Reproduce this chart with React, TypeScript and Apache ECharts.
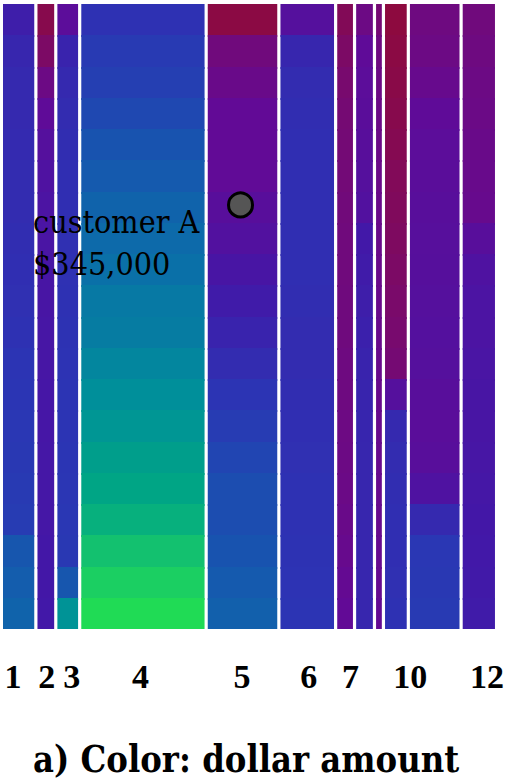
import React, { useEffect, useRef } from "react";
import * as echarts from "echarts";

// ---- data ----
const segmentNames = ["1", "2", "3", "4", "5", "6", "7", "8", "9", "10", "11", "12"];
// number of customers in each bar (bar width)
const customerCounts = [33, 20, 24, 127, 73, 57, 19, 20, 9, 25, 53, 34];

// dollar amount (in $1000) of the customers, row by row from top to bottom
const seg1 = [340, 325, 320, 320, 318, 315, 315, 312, 310, 308, 305, 300, 298, 295, 292, 290, 285, 240, 230, 220];
const seg2 = [480, 455, 420, 395, 380, 370, 365, 362, 360, 360, 358, 358, 356, 356, 355, 355, 355, 352, 352, 350];
const seg3 = [390, 330, 320, 315, 312, 310, 310, 308, 306, 305, 303, 302, 300, 300, 298, 297, 295, 292, 240, 140];
const seg4 = [305, 290, 280, 265, 245, 235, 220, 210, 200, 185, 180, 165, 150, 135, 115, 100, 85, 60, 35, 10];
const seg5 = [490, 430, 415, 400, 400, 398, 385, 375, 360, 345, 330, 315, 300, 285, 270, 255, 255, 245, 235, 225];
const seg6 = [380, 325, 315, 312, 310, 310, 310, 310, 310, 312, 315, 315, 312, 310, 308, 305, 305, 303, 302, 300];
const seg7 = [470, 455, 445, 440, 438, 435, 432, 430, 430, 428, 428, 425, 425, 422, 420, 418, 415, 410, 405, 400];
const seg8 = [420, 395, 390, 388, 385, 380, 375, 350, 345, 340, 335, 330, 328, 326, 325, 325, 325, 325, 325, 325];
const seg9 = [440, 425, 420, 418, 418, 416, 415, 415, 414, 414, 413, 412, 412, 411, 410, 410, 410, 408, 408, 405];
const seg10 = [495, 490, 485, 480, 475, 468, 465, 460, 455, 450, 445, 440, 380, 320, 315, 312, 310, 310, 308, 305];
const seg11 = [425, 420, 410, 395, 390, 388, 385, 383, 382, 380, 378, 380, 385, 388, 385, 370, 320, 295, 292, 290];
const seg12 = [430, 425, 420, 418, 415, 412, 410, 385, 370, 365, 365, 362, 360, 360, 358, 355, 352, 350, 348, 345];
const segmentAmounts = [seg1, seg2, seg3, seg4, seg5, seg6, seg7, seg8, seg9, seg10, seg11, seg12];

// tick labels shown under the bars and where they sit on the axis
const tickLabels = ["1", "2", "3", "4", "5", "6", "7", "10", "12"];
const tickPositions = [10, 44, 69, 138, 240, 307, 349, 409, 486];

const customerA = { name: "customer A", amount: 345000, x: 238.5, row: 6.43 };

const colorScale = ["#22e050", "#18c86a", "#00a585", "#008f9a", "#0a70a8", "#1a50b0", "#2c34b4", "#4218a8", "#620a96", "#7a0a6a", "#8f0a3a"];

const caption = "a) Color: dollar amount";

export default function App() {
  const ref = useRef<HTMLDivElement>(null);
  useEffect(() => {
    if (!ref.current) return;
    const chart = echarts.init(ref.current, null, { renderer: "svg" });
    const total = customerCounts.reduce((a, b) => a + b, 0);
    const nRows = seg1.length;
    const cells: number[][] = [];
    let start = 0;
    customerCounts.forEach((w, s) => {
      segmentAmounts[s].forEach((v, r) => {
        cells.push([start, start + w, r, r + 1, v, s]);
      });
      start += w;
    });
    const GAP = 1.6;
    const nSeg = customerCounts.length;
    chart.setOption({
      animation: false,
      grid: { left: 3, right: 10, top: 4, bottom: 152 },
      xAxis: {
        type: "value",
        min: 0,
        max: total,
        axisLine: { show: false },
        axisTick: { show: false },
        splitLine: { show: false },
        axisLabel: {
          customValues: tickPositions,
          formatter: (v: number) => {
            const i = tickPositions.indexOf(v);
            return i >= 0 ? tickLabels[i] : "";
          },
          fontFamily: "Liberation Serif",
          fontWeight: "bold",
          fontSize: 34,
          lineHeight: 34,
          color: "#000",
          margin: 30,
        },
      },
      yAxis: { type: "value", min: 0, max: nRows, inverse: true, show: false },
      visualMap: {
        type: "continuous",
        show: false,
        min: 0,
        max: 500,
        dimension: 4,
        seriesIndex: 0,
        inRange: { color: colorScale },
      },
      series: [
        {
          type: "custom",
          name: "dollar amount",
          data: cells,
          encode: { x: [0, 1], y: [2, 3] },
          renderItem: (params: any, api: any) => {
            const s = api.value(5);
            const row = api.value(2);
            const p0 = api.coord([api.value(0), api.value(2)]);
            const p1 = api.coord([api.value(1), api.value(3)]);
            const left = p0[0] + (s > 0 ? GAP : 0);
            const right = p1[0] - (s < nSeg - 1 ? GAP : 0);
            const top = Math.round(Math.min(p0[1], p1[1]));
            const bottom = Math.round(Math.max(p0[1], p1[1]));
            const extra = row < nRows - 1 ? 2 : 0;
            return {
              type: "rect",
              shape: { x: left, y: top, width: right - left, height: bottom - top + extra },
              style: { fill: api.visual("color") },
              z2: row,
            };
          },
        },
        {
          type: "scatter",
          name: customerA.name,
          data: [[customerA.x, customerA.row]],
          symbolSize: 24,
          itemStyle: { color: "#555555", borderColor: "#000", borderWidth: 3, opacity: 1 },
          label: {
            show: true,
            position: [-194, 10],
            align: "left",
            verticalAlign: "top",
            formatter: () => `${customerA.name}\n$${customerA.amount.toLocaleString("en-US")}`,
            fontFamily: "DejaVu Serif Condensed",
            fontSize: 32,
            lineHeight: 42,
            color: "#000",
          },
          z: 5,
        },
      ],
      graphic: [
        {
          type: "text",
          x: 33,
          y: 759,
          scaleX: 0.973,
          style: {
            text: caption,
            fontFamily: "DejaVu Serif Condensed",
            fontWeight: "bold",
            fontSize: 37,
            lineHeight: 34,
            fill: "#000",
            align: "left",
            verticalAlign: "middle",
          },
        },
      ],
    });
    return () => chart.dispose();
  }, []);
  return (
    <div
      ref={ref}
      style={{ position: "fixed", left: 0, top: 0, width: 507, height: 781, background: "#fff" }}
    />
  );
}
